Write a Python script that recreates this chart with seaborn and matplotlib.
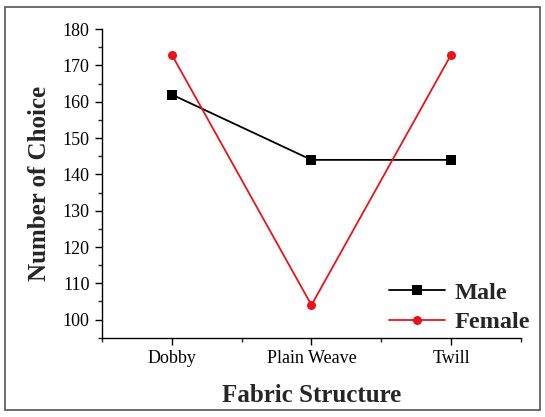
import pandas as pd
import numpy as np
import seaborn as sns
import matplotlib.pyplot as plt
from matplotlib.patches import Rectangle

fabric = ["Dobby", "Plain Weave", "Twill"]
male = [162, 144, 144]
female = [173, 104, 173]

df = pd.DataFrame({
    "Fabric Structure": fabric * 2,
    "Number of Choice": male + female,
    "Gender": ["Male"] * 3 + ["Female"] * 3,
})

sns.set_theme(style="ticks")
plt.rcParams["font.family"] = ["Liberation Serif", "DejaVu Serif"]

fig = plt.figure(figsize=(5.45, 4.17), dpi=100)
ax = fig.add_axes([0.187, 0.19, 0.769, 0.74])

sns.lineplot(data=df, x="Fabric Structure", y="Number of Choice", hue="Gender",
             style="Gender", markers={"Male": "s", "Female": "o"}, dashes=False,
             palette={"Male": "black", "Female": "#e8141b"}, markersize=6.5,
             linewidth=1.3, markeredgewidth=0, sort=False, ax=ax)

ax.set_xlim(-0.5, 2.5)
ax.set_ylim(95, 180)
ax.set_yticks(np.arange(100, 181, 10))
ax.set_yticks(np.arange(95, 181, 5), minor=True)
ax.set_xticks([-0.5, 0.5, 1.5, 2.5], minor=True)
ax.tick_params(axis="both", which="major", direction="out", length=5, width=1,
               labelsize=13, colors="black", pad=4)
ax.tick_params(axis="both", which="minor", direction="out", length=3, width=1)
sns.despine(ax=ax)
for s in ["left", "bottom"]:
    ax.spines[s].set_color("black")
    ax.spines[s].set_linewidth(1)

ax.set_xlabel("Fabric Structure", fontsize=18, fontweight="bold", labelpad=12)
ax.set_ylabel("Number of Choice", fontsize=18, fontweight="bold", labelpad=8)

leg = ax.legend(loc="lower left", bbox_to_anchor=(0.685, 0.015), frameon=False,
                prop={"weight": "bold", "size": 17.5}, handlelength=2.3,
                handletextpad=0.4, borderpad=0, borderaxespad=0, labelspacing=0.3)

fig.patches.append(Rectangle((0.009, 0.017), 0.982, 0.966, transform=fig.transFigure,
                             fill=False, edgecolor="#555555", linewidth=1.2))

fig.savefig("out.png", dpi=100)
